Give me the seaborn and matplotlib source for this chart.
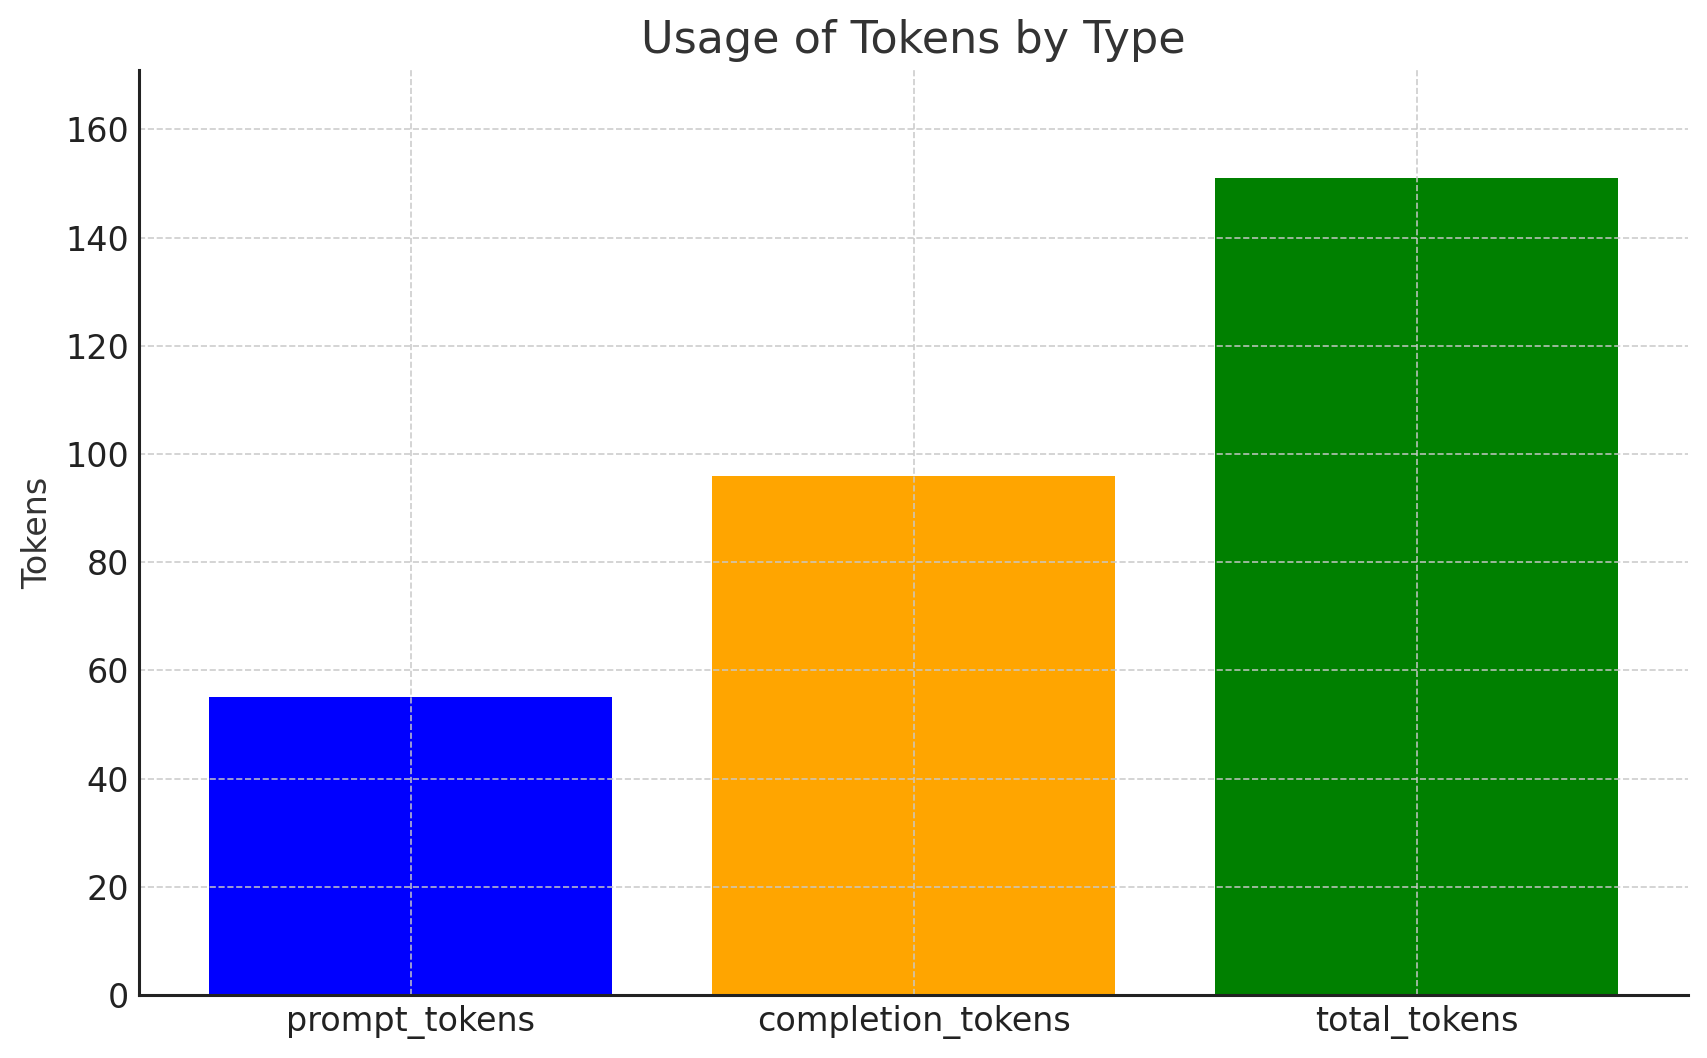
import matplotlib
matplotlib.use("Agg")
import matplotlib.pyplot as plt
import seaborn as sns
import pandas as pd

categories = ["prompt_tokens", "completion_tokens", "total_tokens"]
values = [55, 96, 151]
colors = ["blue", "orange", "green"]

sns.set_style("white")
plt.rcParams['font.family'] = ['DejaVu Sans']

df = pd.DataFrame({"type": categories, "tokens": values})

fig, ax = plt.subplots(figsize=(8.535, 5.29), dpi=200)
sns.barplot(data=df, x="type", y="tokens", hue="type", palette=colors,
            saturation=1, width=0.8, legend=False, linewidth=0, ax=ax)

ax.set_xlim(-0.54, 2.54)
ax.set_ylim(0, max(values) + 20)
ax.set_title("Usage of Tokens by Type", fontsize=16, color="#333333")
ax.set_xlabel("")
ax.set_ylabel("Tokens", fontsize=12, color="#333333")
ax.tick_params(axis="both", labelsize=12, colors="#222222", direction="in",
               length=3.5, width=0.9)
# grid drawn on top of the bars like the original
ax.grid(True, linestyle="--", color="#c8c8c8", alpha=0.9, linewidth=0.6)
ax.set_axisbelow(False)
sns.despine(ax=ax)
for s in ["left", "bottom"]:
    ax.spines[s].set_color("#222222")
    ax.spines[s].set_linewidth(1.1)
    ax.spines[s].set_zorder(5)

fig.subplots_adjust(left=0.0814, right=0.989, top=0.934, bottom=0.0595)
fig.savefig("out.png", dpi=200)
